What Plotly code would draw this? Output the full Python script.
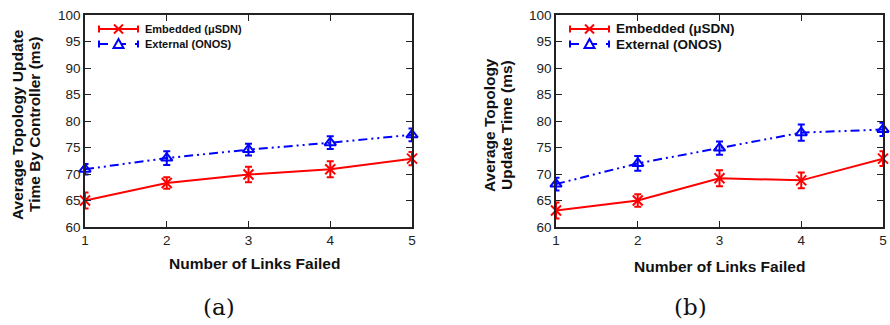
import plotly.graph_objects as go

# Number of links failed
links = [1, 2, 3, 4, 5]

# (a) update time measured by the controller (ms)
a_embedded = [65.0, 68.3, 69.9, 70.9, 72.9]
a_embedded_err = [1.5, 1.1, 1.45, 1.5, 1.25]
a_external = [70.9, 73.0, 74.6, 75.9, 77.4]
a_external_err = [1.0, 1.3, 1.1, 1.2, 1.2]

# (b) average topology update time (ms)
b_embedded = [63.1, 65.0, 69.2, 68.8, 72.9]
b_embedded_err = [1.5, 1.2, 1.5, 1.5, 1.4]
b_external = [68.1, 72.0, 74.9, 77.8, 78.4]
b_external_err = [1.2, 1.4, 1.25, 1.55, 1.25]

y_ticks = [60, 65, 70, 75, 80, 85, 90, 95, 100]

RED = "#ff0000"
BLUE = "#0000ff"
BLUE_DASH = "9px,4px,2px,4px,2px,4px"
FONT = "Liberation Sans, Arial, sans-serif"

W, H = 890, 325


def px(x):
    return x / W


def py(y):
    return 1 - y / H


fig = go.Figure()


def add_series(xa, ya, yv, err, color, symbol, dash, name):
    fig.add_trace(go.Scatter(
        x=links, y=yv, xaxis=xa, yaxis=ya, name=name, showlegend=False,
        mode="lines+markers", cliponaxis=False,
        line=dict(color=color, width=2, dash=dash),
        marker=dict(symbol=symbol, size=10, color=color,
                    line=dict(color=color, width=2)),
        error_y=dict(type="data", array=err, visible=True, color=color,
                     thickness=2, width=3.5),
    ))


add_series("x", "y", a_embedded, a_embedded_err, RED, "x-thin-open", "solid", "Embedded (μSDN)")
add_series("x", "y", a_external, a_external_err, BLUE, "triangle-up-open", BLUE_DASH, "External (ONOS)")
add_series("x2", "y2", b_embedded, b_embedded_err, RED, "x-thin-open", "solid", "Embedded (μSDN)")
add_series("x2", "y2", b_external, b_external_err, BLUE, "triangle-up-open", BLUE_DASH, "External (ONOS)")

axis_common = dict(
    showline=True, mirror="ticks", linecolor="#222", linewidth=1.5,
    ticks="inside", ticklen=6, tickwidth=1.2, tickcolor="#222",
    showgrid=False, zeroline=False, automargin=False,
    tickfont=dict(family=FONT, size=13.5, color="#222"),
)

top, bottom = 15, 227

fig.update_layout(
    width=W, height=H, margin=dict(l=0, r=0, t=0, b=0, autoexpand=False),
    paper_bgcolor="white", plot_bgcolor="white",
    xaxis=dict(domain=[px(85), px(412)], range=[1, 5], tickvals=links,
               anchor="y", **axis_common),
    yaxis=dict(domain=[py(bottom), py(top)], range=[60, 100], tickvals=y_ticks,
               anchor="x", **axis_common),
    xaxis2=dict(domain=[px(556), px(883)], range=[1, 5], tickvals=links,
                anchor="y2", **axis_common),
    yaxis2=dict(domain=[py(bottom), py(top)], range=[60, 100], tickvals=y_ticks,
                anchor="x2", **axis_common),
    showlegend=False,
)

shapes = []
annotations = []


def legend_entry(x0, x1, y, color, dash, marker, label, size):
    xm = (x0 + x1) / 2
    shapes.append(dict(type="line", xref="paper", yref="paper",
                       x0=px(x0), x1=px(x1), y0=py(y), y1=py(y),
                       line=dict(color=color, width=2, dash=dash)))
    for xe in (x0, x1):
        shapes.append(dict(type="line", xref="paper", yref="paper",
                           x0=px(xe), x1=px(xe), y0=py(y - 3.5), y1=py(y + 3.5),
                           line=dict(color=color, width=2)))
    if marker == "x":
        for d in (1, -1):
            shapes.append(dict(type="line", xref="paper", yref="paper",
                               x0=px(xm - 4.5), x1=px(xm + 4.5),
                               y0=py(y - 4.5 * d), y1=py(y + 4.5 * d),
                               line=dict(color=color, width=2)))
    else:
        shapes.append(dict(type="path", xref="paper", yref="paper",
                           path=(f"M {px(xm - 5)} {py(y + 4)} L {px(xm + 5)} {py(y + 4)} "
                                 f"L {px(xm)} {py(y - 5)} Z"),
                           fillcolor="white", line=dict(color=color, width=2)))
    annotations.append(dict(xref="paper", yref="paper", x=px(x1 + 5), y=py(y),
                            xanchor="left", yanchor="middle", showarrow=False,
                            text=f"<b>{label}</b>",
                            font=dict(family=FONT, size=size, color="#111")))


legend_entry(99, 138, 29, RED, "solid", "x", "Embedded (μSDN)", 11)
legend_entry(99, 138, 44, BLUE, "dash", "tri", "External (ONOS)", 11)
legend_entry(570, 609, 29, RED, "solid", "x", "Embedded (μSDN)", 13.5)
legend_entry(570, 609, 44, BLUE, "dash", "tri", "External (ONOS)", 13.5)

title_font = dict(family=FONT, size=15.5, color="#111")

# x axis titles
annotations.append(dict(xref="paper", yref="paper", x=px(255), y=py(263),
                        xanchor="center", yanchor="middle", showarrow=False,
                        text="<b>Number of Links Failed</b>", font=title_font))
annotations.append(dict(xref="paper", yref="paper", x=px(719), y=py(266),
                        xanchor="center", yanchor="middle", showarrow=False,
                        text="<b>Number of Links Failed</b>", font=title_font))

# y axis titles (two lines each)
for xc, txt in [(18, "Average Topology Update"), (35, "Time By Controller (ms)"),
                (490, "Average Topology"), (507, "Update Time (ms)")]:
    annotations.append(dict(xref="paper", yref="paper", x=px(xc), y=py(125),
                            xanchor="center", yanchor="middle", showarrow=False,
                            textangle=-90, text=f"<b>{txt}</b>", font=title_font))

# panel captions
for xc, txt in [(219, "(a)"), (690, "(b)")]:
    annotations.append(dict(xref="paper", yref="paper", x=px(xc), y=py(307),
                            xanchor="center", yanchor="middle", showarrow=False,
                            text=txt,
                            font=dict(family="DejaVu Serif, Liberation Serif, serif",
                                      size=23, color="#111")))

fig.update_layout(shapes=shapes, annotations=annotations)

fig.write_html("out.html")
